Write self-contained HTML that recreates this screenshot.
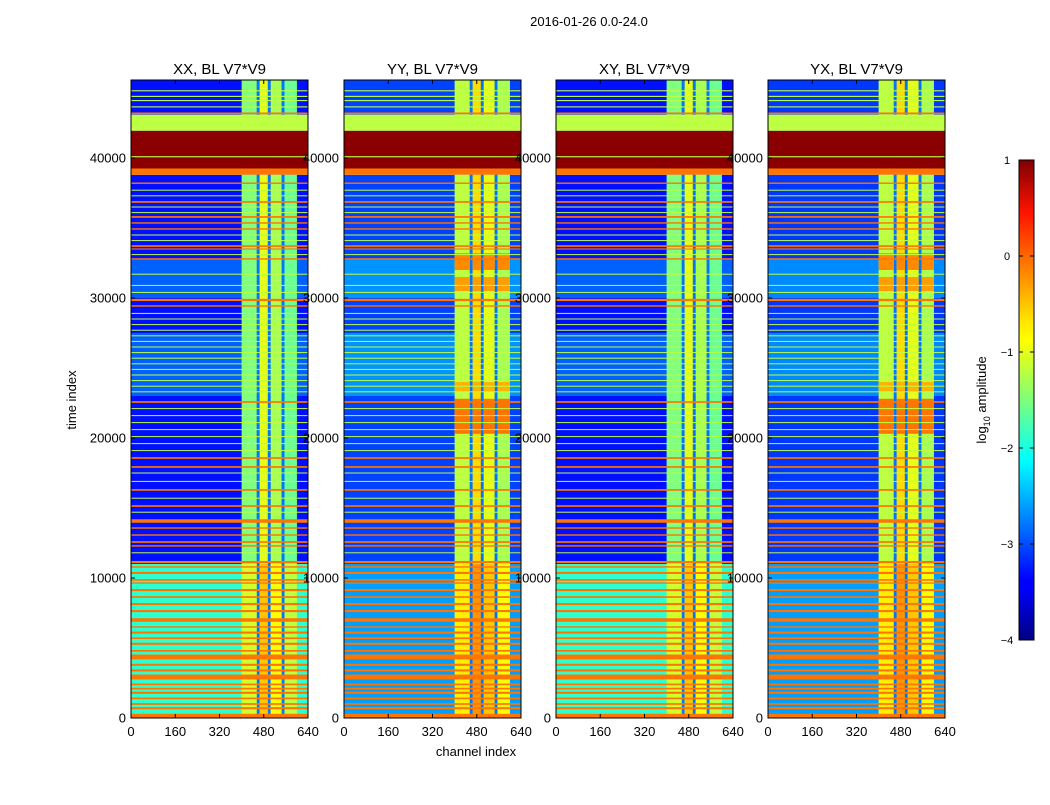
<!DOCTYPE html>
<html><head><meta charset="utf-8"><style>
body{margin:0;background:#fff;}
svg text{font-family:"Liberation Sans",sans-serif;fill:#000;}
</style></head><body>
<svg id="chart" width="1050" height="800" viewBox="0 0 1050 800" xmlns="http://www.w3.org/2000/svg">
<defs>
<linearGradient id="jetgrad" x1="0" y1="1" x2="0" y2="0">
<stop offset="0" stop-color="#00007f"/><stop offset="0.11" stop-color="#0000ff"/><stop offset="0.125" stop-color="#0000ff"/>
<stop offset="0.34" stop-color="#00dcff"/><stop offset="0.375" stop-color="#00ffff"/><stop offset="0.5" stop-color="#7dff7a"/>
<stop offset="0.625" stop-color="#ffff00"/><stop offset="0.66" stop-color="#ffea00"/><stop offset="0.89" stop-color="#ff1300"/>
<stop offset="1" stop-color="#7f0000"/>
</linearGradient>
</defs>
<text x="589" y="26" font-size="13" text-anchor="middle">2016-01-26 0.0-24.0</text>
<text transform="translate(76,400) rotate(-90)" font-size="13" text-anchor="middle">time index</text>
<text x="476" y="756" font-size="13" text-anchor="middle">channel index</text>
<g id="panels"></g>
<g>
<rect x="1019" y="160" width="15" height="480" fill="url(#jetgrad)" stroke="#000" stroke-width="1"/>
<g id="cbticks"></g>
<text transform="translate(986,400) rotate(-90)" font-size="13" text-anchor="middle">log<tspan font-size="9" dy="4">10</tspan><tspan dy="-4"> amplitude</tspan></text>
</g>
</svg>
<script>
// ---- data ----
const panelTitles = ["XX, BL V7*V9","YY, BL V7*V9","XY, BL V7*V9","YX, BL V7*V9"];
const panelLeft = [131,344,556,768];
const xTicks = [0,160,320,480,640];
const yTicks = [0,10000,20000,30000,40000];
const cbTicks = [1,0,-1,-2,-3,-4];
const tMax = 45571;
// background time segments: start, end, log amplitude
const segStart = [0,11000,23000,27500,30000,32800,38800,39250,41950,43100];
const segEnd   = [11000,23000,27500,30000,32800,38800,39250,41950,43100,45571];
const segValue = [-1.9,-3.3,-2.9,-3.3,-2.9,-3.3,-0.2,0.95,-1.2,-3.3];
// per-panel upper-region brightening
const panelShift = [0,0.25,0,0.2];
// per-panel bottom-region background
const bottomBg = [-1.9,-2.6,-1.9,-2.6];
// high-channel column structure
const colStart = [400,455,465,495,505,545,555];
const colEnd   = [455,465,495,505,545,555,600];
const colValue = [-1.5,-2.8,-1.0,-2.8,-1.3,-2.8,-1.6];
// orange patches in YY / YX high channels
const patchStart = [20300,23300,30500,32000];
const patchEnd   = [22800,24000,31500,33200];
const patchValue = [-0.2,-0.5,-0.4,-0.3];
// horizontal stripes: time, thickness (time units), value
const lineTime = [44800,44400,44100,43650,43190,40090,38200,37700,37300,36860,36500,36100,35790,35360,34930,34500,34100,33710,33500,33100,32790,31700,30900,30400,29860,29430,28900,28500,28100,27700,27300,26900,26500,26100,25700,25300,24900,24500,24100,23700,23300,22570,22100,21600,21100,20600,20100,19600,19100,18570,17930,17500,16900,16290,15700,15140,14700,14070,13570,13070,12570,12290,11800,11140,10790,10360,9860,9640,9140,8640,8140,7640,7000,6500,6100,5700,5300,4800,4360,3800,3400,2930,2400,2100,1800,1400,1000,700,150];
const lineWidth = [80,80,80,80,120,80,100,70,70,120,70,70,120,100,100,70,70,120,80,70,100,70,70,70,160,100,70,70,70,70,70,70,70,70,70,70,70,70,70,70,70,120,70,70,70,70,70,70,70,120,120,70,70,120,70,120,70,250,100,100,120,100,70,150,100,150,120,100,150,120,150,150,250,100,150,120,150,120,350,150,150,350,120,120,150,120,120,150,300];
const lineValue = [-1.2,-1.2,-1.2,-1.2,-0.2,-1.2,-0.2,-1.2,-1.2,-0.2,-1.2,-1.2,-0.2,-0.2,-0.2,-1.2,-1.2,-0.2,-0.2,-1.2,-0.2,-1.2,-1.2,-1.2,-0.2,-0.2,-1.2,-1.2,-1.2,-1.2,-1.2,-1.2,-1.2,-1.2,-1.2,-1.2,-1.2,-1.2,-1.2,-1.2,-1.2,-0.2,-1.2,-1.2,-1.2,-1.2,-1.2,-1.2,-1.2,-0.2,-0.2,-1.2,-1.2,-0.2,-1.2,-0.2,-1.2,-0.2,-0.2,-0.2,-0.2,-0.2,-1.2,-0.2,-0.2,-0.2,-0.2,-0.2,-0.2,-0.2,-0.2,-0.2,-0.2,-0.2,-0.2,-0.2,-0.2,-0.2,-0.2,-0.2,-0.2,-0.2,-0.2,-0.2,-0.2,-0.2,-0.2,-0.2,-0.2];

// ---- helpers ----
function jet(v){
  let t=Math.max(0,Math.min(1,(v+4)/5));
  const f=(x)=>Math.max(0,Math.min(1,x));
  const r=f(Math.min(4*t-1.5,-4*t+4.5)),g=f(Math.min(4*t-0.5,-4*t+3.5)),b=f(Math.min(4*t+0.5,-4*t+2.5));
  return `rgb(${Math.round(r*255)},${Math.round(g*255)},${Math.round(b*255)})`;
}
const NS="http://www.w3.org/2000/svg";
function mk(tag,attrs,parent){const e=document.createElementNS(NS,tag);for(const k in attrs)e.setAttribute(k,attrs[k]);parent.appendChild(e);return e;}
const W=177, yTop=80, yBot=718;
const yS=t=>yBot-t/tMax*(yBot-yTop);
const panelsG=document.getElementById('panels');

panelTitles.forEach((title,p)=>{
  const x0=panelLeft[p];
  const xS=c=>x0+c/640*W;
  const g=mk('g',{},panelsG);
  
  
  const full=v=>v>-1.3;
  segStart.forEach((s,i)=>{
    let v=segValue[i];
    if(s===0) v=bottomBg[p];
    else if(v<=-2.3) v+=panelShift[p];
    const r=mk('rect',{x:xS(0),y:yS(segEnd[i]),width:W,height:yS(segStart[i])-yS(segEnd[i]),fill:jet(v)},g);
    
    
  });
  segStart.forEach((s,i)=>{
    if(segValue[i]>-2.0 && s>0) return;
    colStart.forEach((c,j)=>{
      let v=colValue[j];
      if(v>-2){ if(s<11000) v=Math.min(v+0.4,-0.35); if(p%2===1) v=Math.min(v+0.3,-0.35); }
      const r=mk('rect',{x:xS(c),y:yS(segEnd[i]),width:xS(colEnd[j])-xS(c),height:yS(segStart[i])-yS(segEnd[i]),fill:jet(v)},g);
      
      
    });
  });
  if(p%2===1){
    patchStart.forEach((s,i)=>{
      [0,2,4,6].forEach(j=>{
        const r=mk('rect',{x:xS(colStart[j]),y:yS(patchEnd[i]),width:xS(colEnd[j])-xS(colStart[j]),height:yS(s)-yS(patchEnd[i]),fill:jet(patchValue[i])},g);
        
        
      });
    });
  }
  lineTime.forEach((t,i)=>{
    const wch=full(lineValue[i])?640:400;
    const r=mk('rect',{x:xS(0),y:yS(t+lineWidth[i]/2),width:xS(wch)-xS(0),height:Math.max(1,yS(t-lineWidth[i]/2)-yS(t+lineWidth[i]/2)),fill:jet(lineValue[i])},g);
    
    
  });
  const fr=mk('rect',{x:x0,y:yTop,width:W,height:yBot-yTop,fill:'none',stroke:'#000','stroke-width':1},g);
  
  
  const tt=mk('text',{x:x0+W/2,y:74,'font-size':15,'text-anchor':'middle'},g);
  tt.textContent=title;
  
  
  xTicks.forEach(v=>{
    mk('line',{x1:xS(v),x2:xS(v),y1:yBot,y2:yBot-4,stroke:'#000'},g);
    mk('line',{x1:xS(v),x2:xS(v),y1:yTop,y2:yTop+4,stroke:'#000'},g);
    const tx=mk('text',{x:xS(v),y:736,'font-size':13,'text-anchor':'middle'},g);
    tx.textContent=v;
    
    
  });
  yTicks.forEach(v=>{
    mk('line',{x1:x0,x2:x0+4,y1:yS(v),y2:yS(v),stroke:'#000'},g);
    mk('line',{x1:x0+W,x2:x0+W-4,y1:yS(v),y2:yS(v),stroke:'#000'},g);
    const ty=mk('text',{x:x0-5,y:yS(v)+4.5,'font-size':13,'text-anchor':'end'},g);
    ty.textContent=v;
    
    
  });
});
const cbg=document.getElementById('cbticks');
cbTicks.forEach(v=>{
  const y=160+(1-v)/5*480;
  const t=mk('text',{x:1007,y:y+4,'font-size':11,'text-anchor':'middle'},cbg);
  t.textContent=v<0?'\u2212'+(-v):v;
  
  
  mk('line',{x1:1019,x2:1023,y1:y,y2:y,stroke:'#000'},cbg);
  mk('line',{x1:1034,x2:1030,y1:y,y2:y,stroke:'#000'},cbg);
});
</script>
</body></html>
